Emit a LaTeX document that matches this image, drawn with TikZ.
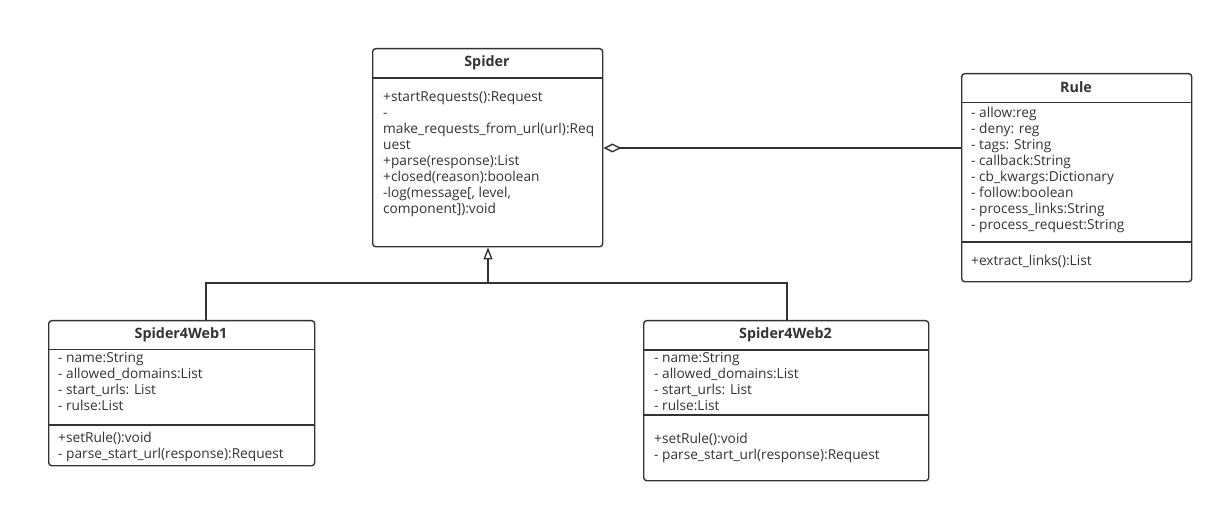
\documentclass[tikz,border=0pt]{standalone}
\usepackage{fontspec}
\setmainfont{Open Sans}
\usetikzlibrary{arrows.meta}
\definecolor{ink}{HTML}{333333}
\tikzset{
  classbox/.style={draw=ink, line width=1.4bp, rounded corners=3bp, fill=white,
    inner sep=0pt, anchor=north west},
  divider/.style={draw=ink, line width=1.4bp},
  title/.style={font=\fontsize{14.3bp}{16bp}\selectfont\bfseries, text=ink, inner sep=0pt},
  member/.style={font=\fontsize{13.7bp}{16bp}\selectfont, text=ink, inner sep=0pt, anchor=base west},
  link/.style={draw=ink, line width=1.4bp},
}
\begin{document}
\begin{tikzpicture}[x=1bp, y=-1bp]
\useasboundingbox (0,0) rectangle (1222,512);
\fill[white] (0,0) rectangle (1222,512);

% ---------- Spider ----------
\node[classbox, minimum width=230bp, minimum height=198bp] (spider) at (372,48) {};
\draw[divider] (372,78) -- (602,78);
\node[title] (spidert) at (487,63) {Spider};
\foreach \t [count=\i] in {
  {+startRequests():Request},
  {-},
  {make\_requests\_from\_url(url):Req},
  {uest},
  {+parse(response):List},
  {+closed(reason):boolean},
  {-log(message[, level,},
  {component]):void}}
  \node[member] (spm\i) at (383,{97+16*(\i-1)+4.8}) {\t};

% ---------- Rule ----------
\node[classbox, minimum width=230bp, minimum height=208bp] (rule) at (961,73) {};
\draw[divider] (961,102.5) -- (1191,102.5);
\draw[divider] (961,242) -- (1191,242);
\node[title] (rulet) at (1076,87.5) {Rule};
\foreach \t [count=\i] in {
  {- allow:reg},
  {- deny: reg},
  {- tags: String},
  {- callback:String},
  {- cb\_kwargs:Dictionary},
  {- follow:boolean},
  {- process\_links:String},
  {- process\_request:String}}
  \node[member] (rua\i) at (971,{113+16*(\i-1)+4.8}) {\t};
\node[member] (rum1) at (971,{261+4.8}) {+extract\_links():List};

% ---------- Spider4Web1 ----------
\node[classbox, minimum width=266bp, minimum height=145bp] (web1) at (48,320) {};
\draw[divider] (48,349.5) -- (314,349.5);
\draw[divider] (48,425) -- (314,425);
\node[title] (web1t) at (181,335) {Spider4Web1};
\foreach \t [count=\i] in {
  {- name:String},
  {- allowed\_domains:List},
  {- start\_urls: List},
  {- rulse:List}}
  \node[member] (w1a\i) at (58,{358+16*(\i-1)+4.8}) {\t};
\node[member] (w1m1) at (58,{438+4.8}) {+setRule():void};
\node[member] (w1m2) at (58,{454+4.8}) {- parse\_start\_url(response):Request};

% ---------- Spider4Web2 ----------
\node[classbox, minimum width=285bp, minimum height=160bp] (web2) at (643,320) {};
\draw[divider] (643,350) -- (928,350);
\draw[divider] (643,415) -- (928,415);
\node[title] (web2t) at (785.5,335) {Spider4Web2};
\foreach \t [count=\i] in {
  {- name:String},
  {- allowed\_domains:List},
  {- start\_urls: List},
  {- rulse:List}}
  \node[member] (w2a\i) at (654,{358+16*(\i-1)+4.8}) {\t};
\node[member] (w2m1) at (654,{439+4.8}) {+setRule():void};
\node[member] (w2m2) at (654,{455+4.8}) {- parse\_start\_url(response):Request};

% ---------- connectors ----------
% aggregation: Rule is part of Spider
\coordinate (aggy) at (0,148);
\draw[link, {Diamond[open, length=18bp, width=9bp, line width=1.4bp]}-]
  (spider.east |- aggy) -- (rule.west |- aggy);

% generalisation: both web spiders inherit from Spider
\coordinate (fork) at (488,283);
\coordinate (w1x) at (206,0);
\coordinate (w2x) at (787,0);
\draw[link, {Triangle[open, length=12bp, width=9bp, line width=1.4bp]}-]
  (spider.south -| fork) -- (fork);
\draw[link] (w1x |- web1.north) |- (fork) -| (w2x |- web2.north);
\end{tikzpicture}
\end{document}
